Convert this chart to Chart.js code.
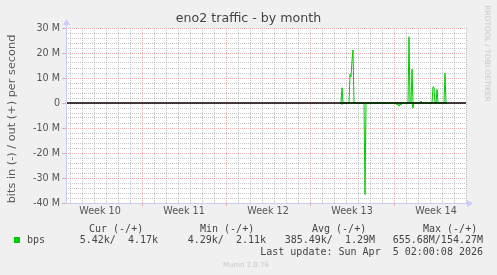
<!DOCTYPE html>
<html>
<head>
<meta charset="utf-8">
<script src="https://cdn.jsdelivr.net/npm/chart.js@4.4.1/dist/chart.umd.min.js"></script>
<style>
  html, body { margin: 0; padding: 0; background: #f0f0f0; }
  canvas { display: block; }
</style>
</head>
<body>
<canvas id="traffic" width="497" height="275"></canvas>
<script>
// x = hours since the start of Week 10, y = Mbit/s
const weekLabels = ['Week 10', 'Week 11', 'Week 12', 'Week 13', 'Week 14'];
const yMajorTicks = [-40, -30, -20, -10, 0, 10, 20, 30];

const outHours = [564, 566, 568, 570, 582, 584, 586, 588, 590, 592, 700, 702, 704, 706, 708, 710, 724, 726, 728, 748, 750, 752, 754, 756, 758, 760, 772, 774, 776, 778];
const outVals  = [0,   0,   6.1, 0,   0,   11.5, 10.5, 17, 21.2, 0,  0,   26.5, 0,  0,   13.6, 0,  0,   0.8, 0,   0,   6.5, 6.2, 0,   0,   5.5, 0,   0,   11.9, 0,  0];

const inHours = [564, 566, 568, 570, 612, 614, 616, 676, 678, 680, 682, 684, 686, 688, 708, 710, 712, 778];
const inVals  = [0,   0,   -0.6, 0,  0,   -36.6, 0,  0,   -0.8, -0.5, -1.3, -0.3, -0.8, 0, 0,   -2,  0,   0];

const legendHeads = ['Cur (-/+)', 'Min (-/+)', 'Avg (-/+)', 'Max (-/+)'];
const legendVals  = ['5.42k/  4.17k', '4.29k/  2.11k', '385.49k/  1.29M', '655.68M/154.27M'];

const xMin = 16, xMax = 816;

document.addEventListener('DOMContentLoaded', () => {
    const ctxEl = document.getElementById('traffic');

    const majorRed = 'rgba(225, 110, 110, 0.55)';
    const minorGrey = 'rgba(140, 140, 140, 0.5)';
    const axisBlue = '#c9ccf4';

    const toPts = (xs, ys) => xs.map((x, i) => ({ x, y: ys[i] }));

    new Chart(ctxEl, {
        type: 'line',
        data: {
            datasets: [
                {
                    // zero rule, on top
                    data: [{ x: xMin, y: 0 }, { x: xMax, y: 0 }],
                    borderColor: '#000',
                    borderWidth: 1.5,
                    pointRadius: 0
                },
                {
                    label: 'bps out',
                    data: toPts(outHours, outVals),
                    borderColor: '#00cc00',
                    borderWidth: 1,
                    pointRadius: 0,
                    tension: 0
                },
                {
                    label: 'bps in',
                    data: toPts(inHours, inVals),
                    borderColor: '#00cc00',
                    borderWidth: 1,
                    pointRadius: 0,
                    tension: 0
                }
            ]
        },
        options: {
            responsive: false,
            animation: false,
            layout: { padding: { left: 0, top: 28, right: 31, bottom: 0 } },
            scales: {
                x: {
                    type: 'linear',
                    min: xMin, max: xMax,
                    afterBuildTicks(scale) {
                        const t = [];
                        for (let v = 24; v <= xMax; v += 12) t.push({ value: v });
                        scale.ticks = t;
                    },
                    afterFit(scale) { scale.height = 72; },
                    grid: {
                        color: c => {
                            const v = c.tick ? c.tick.value : 0;
                            if (v % 168 === 0) return majorRed;
                            if (v % 24 === 0) return minorGrey;
                            return 'rgba(0,0,0,0)';
                        },
                        tickColor: c => (c.tick && c.tick.value % 168 === 0) ? majorRed : 'rgba(0,0,0,0)',
                        tickLength: 3,
                        drawTicks: true
                    },
                    border: { display: false, dash: [1, 1] },
                    ticks: {
                        autoSkip: false,
                        maxRotation: 0,
                        padding: 0,
                        color: '#555',
                        font: { family: 'DejaVu Sans', size: 9.6 },
                        callback: v => {
                            if (v % 168 !== 84) return '';
                            return weekLabels[(v - 84) / 168] || '';
                        }
                    }
                },
                y: {
                    type: 'linear',
                    min: -40, max: 30,
                    afterFit(scale) { scale.width = 66; },
                    grid: {
                        color: c => {
                            const v = c.tick ? c.tick.value : 0;
                            return yMajorTicks.includes(v) ? majorRed : minorGrey;
                        },
                        tickColor: c => (c.tick && yMajorTicks.includes(c.tick.value)) ? majorRed : 'rgba(0,0,0,0)',
                        tickLength: 4,
                        drawTicks: true
                    },
                    border: { display: false, dash: [1, 1] },
                    ticks: {
                        stepSize: 2,
                        autoSkip: false,
                        padding: 2,
                        color: '#555',
                        font: { family: 'DejaVu Sans', size: 9.6 },
                        callback: v => yMajorTicks.includes(v) ? (v === 0 ? '0' : v + ' M') : ''
                    }
                }
            },
            plugins: { legend: { display: false }, tooltip: { enabled: false }, title: { display: false } }
        },
        plugins: [{
            id: 'muninFrame',
            beforeDraw(chart) {
                const { ctx, chartArea: a } = chart;
                ctx.save();
                ctx.fillStyle = '#f0f0f0';
                ctx.fillRect(0, 0, chart.width, chart.height);
                ctx.fillStyle = '#ffffff';
                ctx.fillRect(a.left, a.top, a.right - a.left, a.bottom - a.top);
                ctx.restore();
            },
            afterDraw(chart) {
                const { ctx, chartArea: a } = chart;
                ctx.save();

                // axes with arrows
                ctx.strokeStyle = axisBlue;
                ctx.fillStyle = axisBlue;
                ctx.lineWidth = 1;
                ctx.beginPath();
                ctx.moveTo(a.left + 0.5, a.bottom + 0.5);
                ctx.lineTo(a.left + 0.5, a.top - 4);
                ctx.moveTo(a.left, a.bottom + 0.5);
                ctx.lineTo(a.right + 4, a.bottom + 0.5);
                ctx.stroke();
                ctx.beginPath();
                ctx.moveTo(a.left + 0.5, a.top - 9);
                ctx.lineTo(a.left - 3, a.top - 3);
                ctx.lineTo(a.left + 4, a.top - 3);
                ctx.closePath();
                ctx.fill();
                ctx.beginPath();
                ctx.moveTo(a.right + 7, a.bottom + 0.5);
                ctx.lineTo(a.right + 1, a.bottom - 3);
                ctx.lineTo(a.right + 1, a.bottom + 4);
                ctx.closePath();
                ctx.fill();

                // title
                ctx.fillStyle = '#444';
                ctx.font = '12.6px "DejaVu Sans"';
                ctx.textAlign = 'center';
                ctx.textBaseline = 'alphabetic';
                ctx.fillText('eno2 traffic - by month', 248.5, 22);

                // y axis title
                ctx.save();
                ctx.translate(15, 119);
                ctx.rotate(-Math.PI / 2);
                ctx.font = '11.3px "DejaVu Sans"';
                ctx.fillStyle = '#5a5a5a';
                ctx.fillText('bits in (-) / out (+) per second', 0, 0);
                ctx.restore();

                // side credit
                ctx.save();
                ctx.translate(485, 53.5);
                ctx.rotate(Math.PI / 2);
                ctx.font = '7.5px "DejaVu Sans"';
                ctx.fillStyle = '#c8c8c8';
                ctx.fillText('RRDTOOL / TOBI OETIKER', 0, 0);
                ctx.restore();

                // legend
                ctx.fillStyle = '#00cc00';
                ctx.fillRect(14, 237, 6, 6);
                ctx.font = '10px "DejaVu Sans Mono"';
                ctx.fillStyle = '#444';
                ctx.textAlign = 'left';
                const headX = [89, 200, 312, 423];
                legendHeads.forEach((h, i) => ctx.fillText(h, headX[i], 232));
                ctx.fillText('bps', 27, 243);
                ctx.textAlign = 'right';
                const valEnd = [158, 266, 375, 483];
                legendVals.forEach((v, i) => ctx.fillText(v, valEnd[i], 243));
                ctx.fillText('Last update: Sun Apr  5 02:00:08 2026', 483, 255);

                ctx.textAlign = 'center';
                ctx.font = '7px "DejaVu Sans"';
                ctx.fillStyle = '#c8c8c8';
                ctx.fillText('Munin 2.0.76', 246, 267);

                ctx.restore();
            }
        }]
    });
});
</script>
</body>
</html>
